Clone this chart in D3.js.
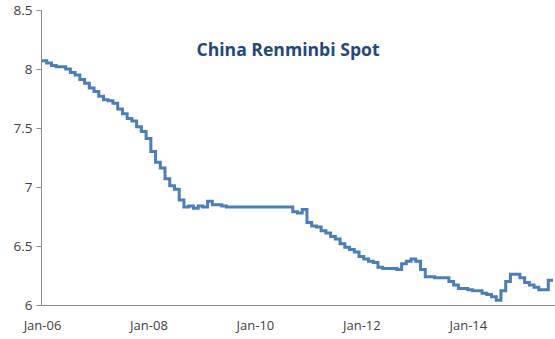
<!DOCTYPE html>
<html>
<head>
<meta charset="utf-8">
<script src="https://cdn.jsdelivr.net/npm/d3@7"></script>
<style>
  html, body { margin: 0; padding: 0; background: #fff; }
  svg { display: block; }
  text { font-family: "Open Sans", Lato, sans-serif; }
</style>
</head>
<body>
<svg id="chart" width="555" height="339"></svg>
<script>
// Monthly USD/CNY spot (Jan 2006 .. Dec 2014)
const months = d3.range(0, 108).map(i => {
  const y = 2006 + Math.floor(i / 12), m = i % 12 + 1;
  return y + "-" + String(m).padStart(2, "0");
});
const values2006 = [8.07, 8.05, 8.03, 8.02, 8.02, 8.00, 7.97, 7.95, 7.91, 7.88, 7.84, 7.81];
const values2007 = [7.77, 7.74, 7.73, 7.71, 7.66, 7.62, 7.58, 7.56, 7.51, 7.47, 7.41, 7.30];
const values2008 = [7.21, 7.16, 7.07, 7.01, 6.98, 6.89, 6.83, 6.84, 6.82, 6.84, 6.83, 6.88];
const values2009 = [6.85, 6.85, 6.84, 6.83, 6.83, 6.83, 6.83, 6.83, 6.83, 6.83, 6.83, 6.83];
const values2010 = [6.83, 6.83, 6.83, 6.83, 6.83, 6.79, 6.78, 6.81, 6.70, 6.67, 6.66, 6.63];
const values2011 = [6.61, 6.58, 6.56, 6.52, 6.49, 6.47, 6.45, 6.41, 6.39, 6.37, 6.36, 6.32];
const values2012 = [6.31, 6.31, 6.31, 6.30, 6.35, 6.37, 6.39, 6.37, 6.30, 6.24, 6.24, 6.23];
const values2013 = [6.23, 6.23, 6.20, 6.17, 6.14, 6.14, 6.13, 6.12, 6.12, 6.10, 6.09, 6.07];
const values2014 = [6.04, 6.12, 6.20, 6.26, 6.26, 6.23, 6.19, 6.17, 6.15, 6.13, 6.13, 6.21];
const values = [].concat(values2006, values2007, values2008, values2009, values2010,
                         values2011, values2012, values2013, values2014);

const yTicks = [6, 6.5, 7, 7.5, 8, 8.5];
const xTickLabels = ["Jan-06", "Jan-08", "Jan-10", "Jan-12", "Jan-14"];
const xTickPositions = [0, 22.5, 45, 67.5, 90];   // category-axis label slots (in months)
const title = "China Renminbi Spot";

const svg = d3.select("#chart");
const margin = { left: 42, right: 2, top: 10, bottom: 34 };
const W = 555, H = 339;

const x = d3.scaleLinear().domain([0, values.length]).range([margin.left, W - margin.right]);
const y = d3.scaleLinear().domain([6, 8.5]).range([H - margin.bottom, margin.top]);

// y axis
const yAxis = svg.append("g")
  .attr("transform", `translate(${margin.left - 0.5},0)`)
  .call(d3.axisLeft(y).tickValues(yTicks).tickSize(5).tickPadding(4)
    .tickFormat(d => d3.format("")(d)));
yAxis.select(".domain").attr("stroke", "#8c8c8c").attr("d", `M-5,${y(8.5)+0.5}H0V${y(6)+0.5}`);
yAxis.selectAll(".tick line").attr("stroke", "#8c8c8c");
yAxis.selectAll(".tick text").attr("fill", "#404040").style("font-size", "13.5px");

// x axis
const xAxis = svg.append("g")
  .attr("transform", `translate(0,${y(6) + 0.5})`)
  .call(d3.axisBottom(x).tickValues(xTickPositions).tickSize(0).tickPadding(15)
    .tickFormat((d, i) => xTickLabels[i]));
xAxis.select(".domain").attr("stroke", "#8c8c8c").attr("d", `M${margin.left - 1},0H${W}`);
xAxis.selectAll(".tick text").attr("fill", "#404040").style("font-size", "13px");

// stepped line
const pts = values.map((v, i) => [i, v]);
pts.push([values.length, values[values.length - 1]]);
const line = d3.line().x(d => x(d[0])).y(d => y(d[1])).curve(d3.curveStepAfter);
svg.append("path")
  .datum(pts)
  .attr("d", line)
  .attr("fill", "none")
  .attr("stroke", "#4a7ebb")
  .attr("stroke-width", 3)
  .attr("stroke-linejoin", "miter");

// title
svg.append("text")
  .attr("x", 288).attr("y", 56)
  .attr("text-anchor", "middle")
  .attr("fill", "#1f497d")
  .style("font-size", "17.6px").style("font-weight", "bold")
  .text(title);
</script>
</body>
</html>
